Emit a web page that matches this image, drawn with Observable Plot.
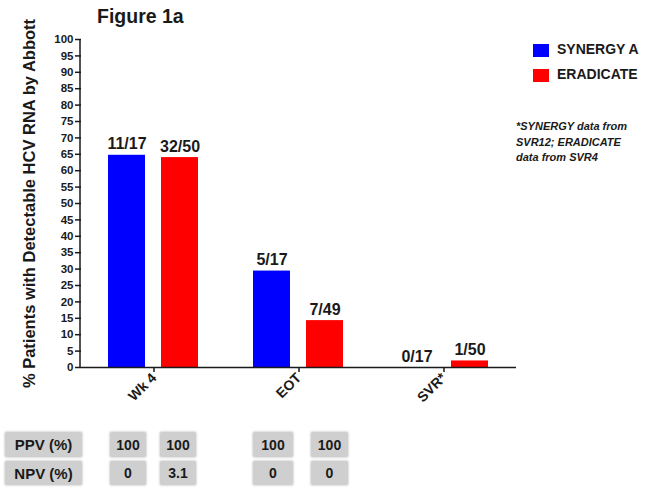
<!DOCTYPE html>
<html><head><meta charset="utf-8">
<script src="https://cdn.jsdelivr.net/npm/d3@7"></script>
<script src="https://cdn.jsdelivr.net/npm/@observablehq/plot@0.6"></script>
<style>
body{margin:0;background:#fff;font-family:Arial,"Liberation Sans",sans-serif;}
#wrap{position:relative;width:645px;height:489px;overflow:hidden;background:#fff;}
#wrap svg{position:absolute;left:0;top:0;}
.abs{position:absolute;white-space:nowrap;color:#1a1a1a;font-weight:bold;}
.box{position:absolute;background:#cfcfcf;border-radius:2px;box-shadow:0 0 2px 1px #dcdcdc;color:#1a1a1a;font-weight:bold;font-size:14px;display:flex;align-items:center;justify-content:center;}
.sw{position:absolute;width:16px;height:13px;}
</style></head><body><div id="wrap"></div>
<script>
const timepoints = ["Wk 4", "EOT", "SVR*"];
const series = ["SYNERGY A", "ERADICATE"];
const synergyA = [64.7, 29.4, 0];
const eradicate = [64.0, 14.3, 2.0];
const synergyLabels = ["11/17", "5/17", "0/17"];
const eradicateLabels = ["32/50", "7/49", "1/50"];
const colors = ["#0000ff", "#ff0000"];
const yTicks = d3.range(0, 101, 5);
const yLabel = "% Patients with Detectable HCV RNA by Abbott";
const title = "Figure 1a";
const tableRows = ["PPV (%)", "NPV (%)"];
const ppv = ["100", "100", "100", "100"];
const npv = ["0", "3.1", "0", "0"];
const footnote = ["*SYNERGY data from", "SVR12; ERADICATE", "data from SVR4"];

const data = timepoints.flatMap((t, i) => [
  {t, s: series[0], v: synergyA[i], label: synergyLabels[i]},
  {t, s: series[1], v: eradicate[i], label: eradicateLabels[i]}
]);

const font = 'Arial, "Liberation Sans", sans-serif';
const plot = Plot.plot({
  width: 645, height: 489,
  marginLeft: 80, marginRight: 128, marginTop: 39, marginBottom: 122,
  style: {fontFamily: font, background: "transparent", color: "#1a1a1a"},
  fx: {domain: timepoints, padding: 0, label: null},
  x: {domain: series, paddingInner: 0.3, paddingOuter: 0.5, axis: null},
  y: {domain: [0, 100]},
  color: {domain: series, range: colors},
  marks: [
    Plot.barY(data, {fx: "t", x: "s", y: "v", fill: "s"}),
    Plot.text(data, {fx: "t", x: "s", y: "v", text: "label", lineAnchor: "bottom", dy: -6, fontSize: 16, fontWeight: "bold", fill: "#1a1a1a"}),
    Plot.axisY({ticks: yTicks, tickSize: 6, tickPadding: 2, fontSize: 11.5, fontWeight: "bold", strokeWidth: 1.5,
      label: yLabel, labelAnchor: "center", labelArrow: "none", labelOffset: 58}),
    Plot.ruleY([0], {stroke: "#1a1a1a", strokeWidth: 1.5}),
    Plot.axisFx({anchor: "bottom", tickRotate: -45, tickSize: 5, tickPadding: 3, fontSize: 14, fontWeight: "bold", strokeWidth: 1.5, label: null})
  ]
});
const wrap = document.getElementById("wrap");
wrap.appendChild(plot);
d3.select(plot).selectAll("[aria-label='y-axis label'] text").style("font-size", "16.5px").style("font-weight", "bold");
// y-axis line, placed through the plot's own y scale
const ys = plot.scale("y");
d3.select(plot).append("line")
  .attr("x1", 80).attr("x2", 80)
  .attr("y1", ys.apply(0) + 0.75).attr("y2", ys.apply(100))
  .attr("stroke", "#1a1a1a").attr("stroke-width", 1.5);

function add(cls, css, html) {
  const d = document.createElement("div");
  d.className = cls;
  Object.assign(d.style, css);
  d.innerHTML = html;
  wrap.appendChild(d);
  return d;
}
// title
add("abs", {left: "97px", top: "5px", fontSize: "19.5px"}, title);
// legend
series.forEach((s, i) => {
  add("sw", {left: "533px", top: (44 + i * 25) + "px", background: colors[i]}, "");
  add("abs", {left: "557px", top: (41 + i * 25) + "px", fontSize: "14px"}, s);
});
// footnote
add("abs", {left: "516px", top: "119px", fontSize: "11px", fontStyle: "italic", lineHeight: "15.5px"}, footnote.join("<br>"));
// table
const colLeft = [110, 160, 253, 311];
const colW = [36, 36, 40, 37];
[ppv, npv].forEach((row, r) => {
  const top = r === 0 ? 432 : 461;
  const h = r === 0 ? 25 : 24;
  add("box", {left: "5px", top: top + "px", width: "77px", height: h + "px", fontSize: "15px"}, tableRows[r]);
  row.forEach((v, c) => add("box", {left: colLeft[c] + "px", top: top + "px", width: colW[c] + "px", height: h + "px"}, v));
});
</script></body></html>
